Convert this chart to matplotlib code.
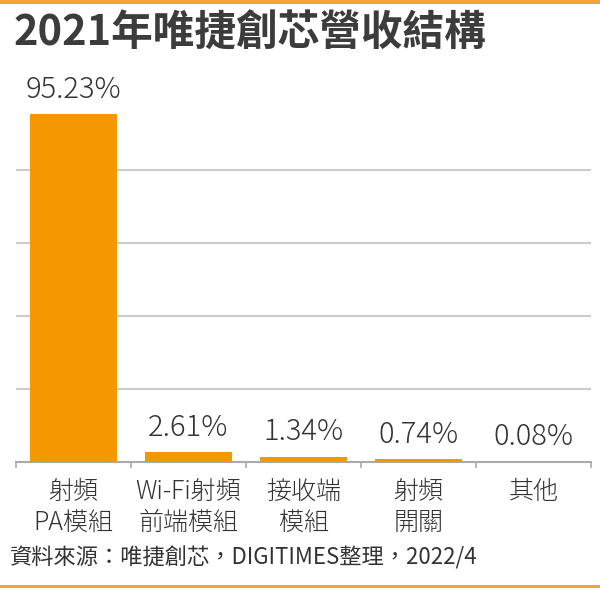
import matplotlib
matplotlib.use("Agg")
import matplotlib.pyplot as plt
from matplotlib.patches import Rectangle

plt.rcParams['font.family'] = ['Noto Sans CJK TC', 'Noto Sans CJK JP', 'DejaVu Sans']
LIGHT = ['Noto Sans CJK JP', 'Noto Sans CJK TC', 'DejaVu Sans']

# ---- data ----
categories = ["射頻\nPA模組", "Wi-Fi射頻\n前端模組", "接收端\n模組", "射頻\n開關", "其他"]
values = [95.23, 2.61, 1.34, 0.74, 0.08]
value_labels = ["95.23%", "2.61%", "1.34%", "0.74%", "0.08%"]
grid_ticks = [20, 40, 60, 80]
title = "2021年唯捷創芯營收結構"
source = "資料來源：唯捷創芯，DIGITIMES整理，2022/4"

ORANGE = "#F39800"
LINE_ORANGE = "#F6A23A"
TEXT = "#333333"
W, H = 600, 590

fig = plt.figure(figsize=(W / 100, H / 100), dpi=100)
fig.patch.set_facecolor("white")

# top and bottom orange rules
fig.add_artist(Rectangle((0, 1 - 3.5 / H), 1, 3.5 / H, transform=fig.transFigure,
                         color=LINE_ORANGE, lw=0))
fig.add_artist(Rectangle((0, 2 / H), 1, 3 / H, transform=fig.transFigure,
                         color=LINE_ORANGE, lw=0))

fig.text(14 / W, 1 - 13 / H, title, ha="left", va="top", fontsize=30,
         fontweight="bold", color="#3c3c3c")
fig.text(10 / W, 1 - 558 / H, source, ha="left", va="center", fontsize=16,
         color=TEXT)

ax = fig.add_axes([16 / W, 1 - 462 / H, 575 / W, 365 / H])
x = list(range(len(categories)))
bars = ax.bar(x, values, width=0.76, color=ORANGE, zorder=3)

for xi, v, lab in zip(x, values, value_labels):
    ax.annotate(lab, (xi, v), xytext=(0, 7), textcoords="offset points",
                ha="center", va="bottom", fontsize=21, family=LIGHT,
                fontweight=300, color=TEXT)

ax.set_xlim(-0.5, len(categories) - 0.5)
ax.set_ylim(0, 100)
ax.set_yticks(grid_ticks)
ax.set_yticklabels([])
ax.yaxis.grid(True, color="#cccccc", lw=1.5, zorder=0)
ax.tick_params(axis="y", length=0)

ax.set_xticks(x)
ax.set_xticklabels(categories, fontsize=18, family=LIGHT, fontweight=300,
                   color=TEXT, linespacing=1.2, multialignment="center")
ax.tick_params(axis="x", which="major", length=0, pad=12)
ax.set_xticks([i - 0.5 for i in range(len(categories) + 1)], minor=True)
ax.tick_params(axis="x", which="minor", length=4, width=1.2, color="#aaaaaa")

for s in ["top", "right", "left"]:
    ax.spines[s].set_visible(False)
ax.spines["bottom"].set_color("#aaaaaa")
ax.spines["bottom"].set_linewidth(1.5)
ax.set_axisbelow(True)

fig.savefig("out.png", dpi=100, facecolor="white")
